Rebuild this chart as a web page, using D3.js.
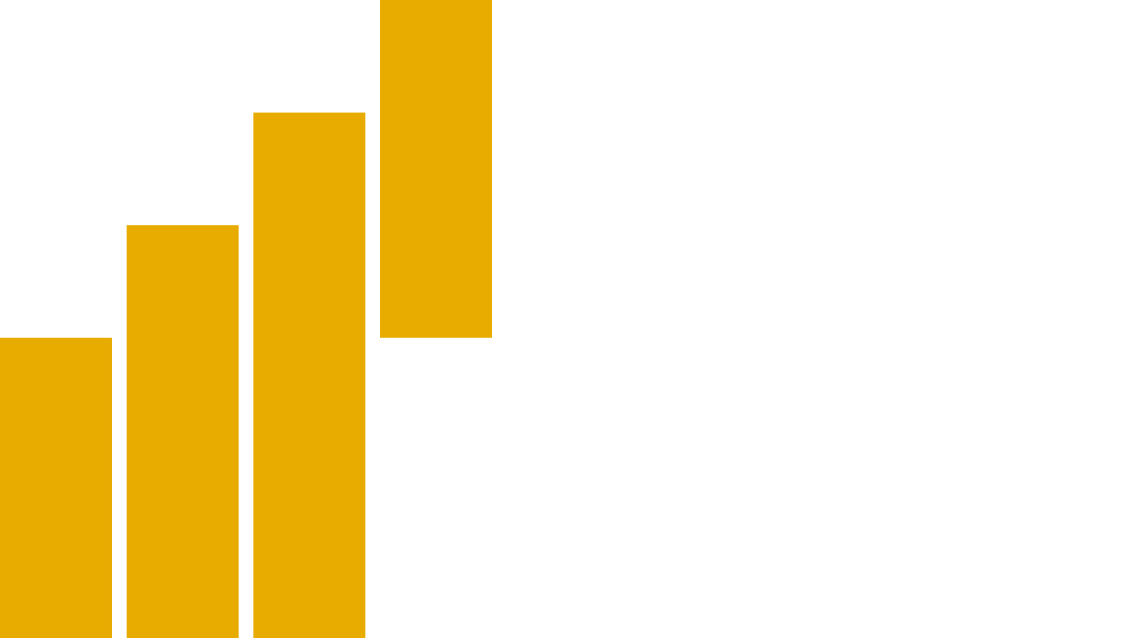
<!DOCTYPE html>
<html>
<head>
<meta charset="utf-8">
<script src="https://cdn.jsdelivr.net/npm/d3@7"></script>
<style>
  html, body { margin: 0; padding: 0; background: #fff; overflow: hidden; }
</style>
</head>
<body>
<div id="chart"></div>
<script>
// bar data (floating bars: start / end values)
var categories = ["A", "B", "C", "D"];
var barStart = [0, 0, 0, 2];
var barEnd = [2, 2.75, 3.5, 4.25];

var svgWidth = 1140;
var svgHeight = 638;

var svg = d3.select("#chart")
    .append("svg")
    .attr("width", svgWidth)
    .attr("height", svgHeight);

var data = categories.map(function(c, i) {
    return { cat: c, start: barStart[i], end: barEnd[i] };
});

var xScale = d3.scaleBand()
    .domain(categories)
    .range([0, 492])
    .paddingInner(0.116)
    .paddingOuter(0);

var yScale = d3.scaleLinear()
    .domain([0, 4.25])
    .range([svgHeight, 0]);

svg.selectAll("rect")
    .data(data)
    .enter()
    .append("rect")
    .attr("x", d => xScale(d.cat))
    .attr("width", xScale.bandwidth())
    .attr("y", d => yScale(d.end))
    .attr("height", d => yScale(d.start) - yScale(d.end))
    .attr("fill", "#E8AC00");
</script>
</body>
</html>
